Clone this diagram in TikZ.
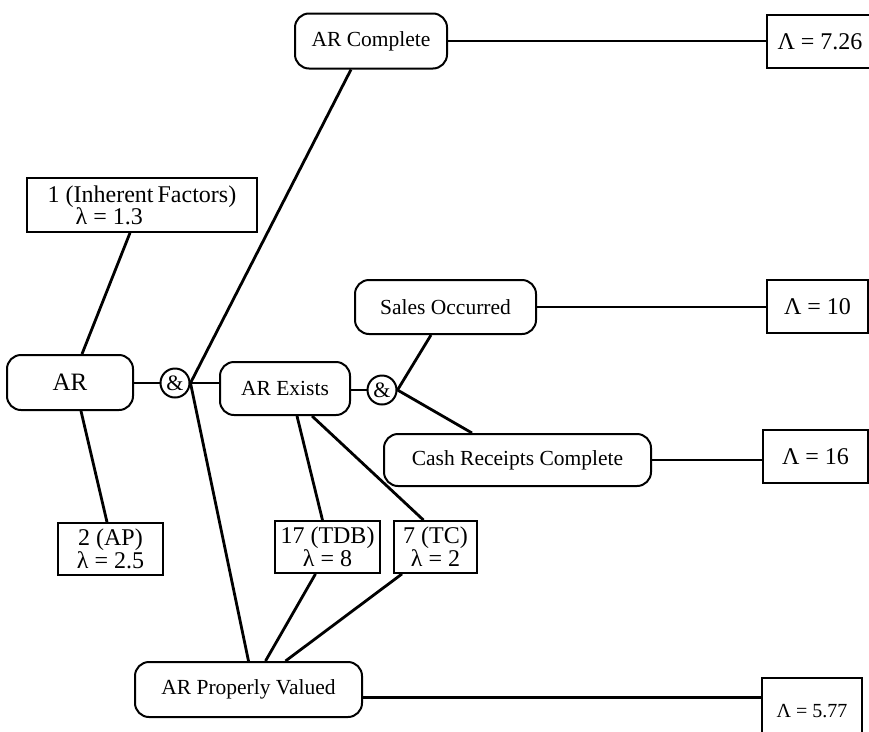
\documentclass[tikz,border=0pt]{standalone}
\usepackage{fontspec}
\setmainfont{Liberation Serif}
\begin{document}
\begin{tikzpicture}[x=1pt,y=-1pt,
  goal/.style={draw, line width=2pt, rounded corners=14pt, inner sep=0pt,
    font=\fontsize{21.5}{24}\selectfont},
  factor/.style={draw, line width=1.8pt, inner sep=0pt, align=center,
    font=\fontsize{24}{23}\selectfont},
  result/.style={draw, line width=1.8pt, inner sep=0pt,
    font=\fontsize{24}{26}\selectfont},
  andgate/.style={draw, circle, line width=2pt, inner sep=0pt,
    minimum size=29pt, font=\fontsize{22}{24}\selectfont},
  link/.style={line width=2.8pt}]
\useasboundingbox (0,0) rectangle (869,731);

% goals (rounded boxes)
\node[goal, minimum width=152pt, minimum height=55pt] (arc)   at (371,41)     {AR Complete};
\node[goal, minimum width=126pt, minimum height=55pt,
      font=\fontsize{25}{28}\selectfont]              (ar)    at (70,382.5)   {AR};
\node[goal, minimum width=130pt, minimum height=53pt] (arex)  at (285,388.5)  {AR Exists};
\node[goal, minimum width=181pt, minimum height=54pt] (sales) at (445.5,307)   {Sales Occurred};
\node[goal, minimum width=267pt, minimum height=52pt] (cash)  at (517.5,460)   {Cash Receipts Complete};
\node[goal, minimum width=227pt, minimum height=55pt] (pv)    at (248.5,689.5) {AR Properly Valued};

% AND gates
\node[andgate] (and1) at (175,383) {\&};
\node[andgate] (and2) at (382,390) {\&};

% evidence boxes
\node[factor, minimum width=230pt, minimum height=54pt, align=left] (inh) at (142,205)
  {1 (Inherent\,Factors)\\[-1pt]\hspace*{28pt}λ = 1.3};
\node[factor, minimum width=105pt, minimum height=52pt] (ap)  at (110.5,549) {2 (AP)\\λ = 2.5};
\node[factor, minimum width=105pt, minimum height=52pt] (tdb) at (327.5,547) {17 (TDB)\\λ = 8};
\node[factor, minimum width=83pt,  minimum height=52pt] (tc)  at (435.5,547) {7 (TC)\\λ = 2};

% combined results
\node[result, minimum width=106pt, minimum height=53pt] (r726) at (820,41.5)   {Λ = 7.26};
\node[result, minimum width=101pt, minimum height=53pt] (r10)  at (817.5,306.5) {Λ = 10};
\node[result, minimum width=105pt, minimum height=53pt] (r16)  at (815.5,456.5) {Λ = 16};
\node[result, minimum width=100pt, minimum height=67pt,
      font=\fontsize{20}{22}\selectfont]              (r577) at (812,711.5)   {Λ = 5.77};

% connectors
\draw[link] (arc.east) -- (arc.east -| r726.west);
\draw[link] ([xshift=-12pt]inh.south) -- ([xshift=12pt]ar.north);
\draw[link] ([xshift=11pt]ar.south) -- ([xshift=-3.5pt]ap.north);
\draw[link] (ar.east |- and1.west) -- (and1.west);
\draw[link] (and1.east) -- (and1.east -| arex.west);
\draw[link] (and1.east) -- ([xshift=-20pt]arc.south);
\draw[link] (and1.east) -- (pv.north);
\draw[link] (arex.east |- and2.west) -- (and2.west);
\draw[link] ([xshift=12pt]arex.south) -- ([xshift=-5pt]tdb.north);
\draw[link] ([xshift=27pt]arex.south) -- ([xshift=-12pt]tc.north);
\draw[link] ([xshift=-12pt]tdb.south) -- ([xshift=17pt]pv.north);
\draw[link] ([xshift=-33.5pt]tc.south) -- ([xshift=37pt]pv.north);
\draw[link] (and2.east) -- ([xshift=-14.5pt]sales.south);
\draw[link] (and2.east) -- ([xshift=-45.5pt]cash.north);
\draw[link] (sales.east) -- (sales.east -| r10.west);
\draw[link] (cash.east) -- (cash.east -| r16.west);
\draw[link] ([yshift=-8pt]pv.east) -- ([yshift=-8pt]pv.east -| r577.west);
\end{tikzpicture}
\end{document}
